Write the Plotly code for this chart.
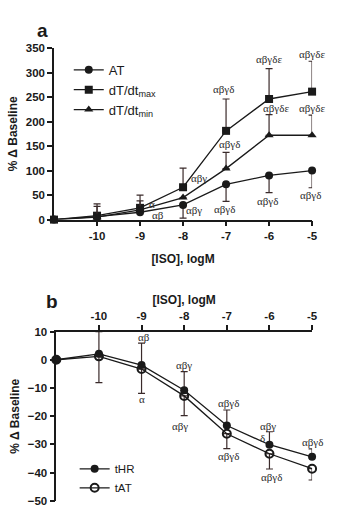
import plotly.graph_objects as go

# ---------------- data ----------------
conc = [-11, -10, -9, -8, -7, -6, -5]
tick_vals = [-10, -9, -8, -7, -6, -5]
tick_text = ["-10", "-9", "-8", "-7", "-6", "-5"]

# Panel a
at_vals = [0, 6, 15, 30, 72, 90, 100]
at_err_down = [0, 0, 0, 27, 35, 35, 35]
dtmax_vals = [0, 8, 24, 66, 181, 246, 261]
dtmax_err_up = [0, 24, 26, 39, 65, 62, 62]
dtmin_vals = [0, 5, 20, 45, 104, 172, 172]
dtmin_err_up = [0, 22, 18, 0, 33, 42, 41]

# Panel b
thr_vals = [0, 2.1, -1.9, -10.8, -23.3, -30.1, -34.4]
thr_err_up = [0, 7.9, 7.8, 6.6, 5.5, 4.6, 2.8]
tat_vals = [0, 1.2, -3.3, -12.8, -26.2, -33.3, -38.6]
tat_err_down = [0, 9.3, 8.6, 7.0, 5.3, 5.4, 4.0]

# significance labels: (x, y, text)
sig_a_x = [-6, -5, -7.05, -5.85, -5.0, -6.92, -7.62, -7.75, -7.04, -6.03, -5.03, -8.73, -8.58]
sig_a_y = [328, 338, 266, 228, 228, 155, 84, 19, 22, 37, 50, 31, 9]
sig_a_t = ["αβγδε", "αβγδε", "αβγδ", "αβγδε", "αβγδε", "αβγδ", "αβγ", "αβγ",
           "αβγδ", "αβγδ", "αβγδ", "α", "αβ"]

sig_b_x = [-8.94, -9.0, -8.0, -8.1, -6.95, -6.95, -6.04, -6.17, -5.95, -5.0, -4.93]
sig_b_y = [8, -14, -2, -23.6, -15.4, -34.2, -23.3, -27.7, -41.7, -29, -46]
sig_b_t = ["αβ", "α", "αβγ", "αβγ", "αβγδ", "αβγδ", "αβγ", "δ", "αβγδ", "αβγδ", "αβγδε"]

# ---------------- styles ----------------
INK = "#1a1a1a"
ERR = "#3a2a2a"
SANS = "Liberation Sans, Arial, sans-serif"
SERIF = "Liberation Serif, Times New Roman, serif"

fig = go.Figure()

def err_up(vals):
    return dict(type="data", symmetric=False, array=vals, arrayminus=[0] * len(vals),
                color=ERR, thickness=1.2, width=3.5)

def err_down(vals):
    return dict(type="data", symmetric=False, array=[0] * len(vals), arrayminus=vals,
                color=ERR, thickness=1.2, width=3.5)

fig.add_trace(go.Scatter(x=conc, y=at_vals, name="AT", mode="lines+markers",
                         line=dict(color=INK, width=1.3),
                         marker=dict(symbol="circle", size=8, color=INK),
                         error_y=err_down(at_err_down), cliponaxis=False,
                         xaxis="x", yaxis="y", legend="legend"))
fig.add_trace(go.Scatter(x=conc, y=dtmax_vals, name="dT/dt<sub>max</sub>", mode="lines+markers",
                         line=dict(color=INK, width=1.3),
                         marker=dict(symbol="square", size=8, color=INK),
                         error_y=err_up(dtmax_err_up), cliponaxis=False,
                         xaxis="x", yaxis="y", legend="legend"))
fig.add_trace(go.Scatter(x=conc, y=dtmin_vals, name="dT/dt<sub>min</sub>", mode="lines+markers",
                         line=dict(color=INK, width=1.3),
                         marker=dict(symbol="triangle-up", size=8, color=INK),
                         error_y=err_up(dtmin_err_up), cliponaxis=False,
                         xaxis="x", yaxis="y", legend="legend"))

fig.add_trace(go.Scatter(x=conc, y=thr_vals, name="tHR", mode="lines+markers",
                         line=dict(color=INK, width=1.3),
                         marker=dict(symbol="circle", size=8, color=INK),
                         error_y=err_up(thr_err_up), cliponaxis=False,
                         xaxis="x2", yaxis="y2", legend="legend2"))
fig.add_trace(go.Scatter(x=conc, y=tat_vals, name="tAT", mode="lines+markers",
                         line=dict(color=INK, width=1.3),
                         marker=dict(symbol="circle-open", size=8, color=INK, line=dict(width=2)),
                         error_y=err_down(tat_err_down), cliponaxis=False,
                         xaxis="x2", yaxis="y2", legend="legend2"))

annotations = []
for x, y, t in zip(sig_a_x, sig_a_y, sig_a_t):
    annotations.append(dict(x=x, y=y, xref="x", yref="y", text=t, showarrow=False,
                            font=dict(family=SERIF, size=11, color="#2a2a2a")))
for x, y, t in zip(sig_b_x, sig_b_y, sig_b_t):
    annotations.append(dict(x=x, y=y, xref="x2", yref="y2", text=t, showarrow=False,
                            font=dict(family=SERIF, size=11, color="#2a2a2a")))

# panel letters
annotations.append(dict(x=36 / 339, y=1 - 12 / 515, xref="paper", yref="paper", text="<b>a</b>",
                        showarrow=False, font=dict(family=SANS, size=19, color=INK)))
annotations.append(dict(x=45 / 339, y=1 - 303 / 515, xref="paper", yref="paper", text="<b>b</b>",
                        showarrow=False, font=dict(family=SANS, size=19, color=INK)))

tickfont = dict(family=SANS, size=11.5, color=INK, weight="bold")
titlefont = dict(family=SANS, size=12, color=INK, weight="bold")

axis_common = dict(showgrid=False, zeroline=False, showline=True, linecolor=INK, linewidth=1.5,
                   ticks="outside", ticklen=5, tickwidth=1.5, tickcolor=INK, tickfont=tickfont)

fig.update_layout(
    width=339, height=515,
    margin=dict(l=0, r=0, t=0, b=0),
    paper_bgcolor="white", plot_bgcolor="white",
    showlegend=True,
    xaxis=dict(domain=[55 / 339, 317.7 / 339], range=[-11, -5], tickvals=tick_vals,
               ticktext=tick_text, anchor="y",
               title=dict(text="[ISO], logM", font=titlefont, standoff=13), **axis_common),
    yaxis=dict(domain=[1 - 218.7 / 515, 1 - 43 / 515], range=[0, 350],
               tickvals=[0, 50, 100, 150, 200, 250, 300, 350], anchor="x",
               title=dict(text="% Δ Baseline", font=titlefont, standoff=6), **axis_common),
    xaxis2=dict(domain=[57.3 / 339, 317.7 / 339], range=[-11, -5], tickvals=tick_vals,
                ticktext=tick_text, anchor="y2", side="top",
                title=dict(text="[ISO], logM", font=titlefont, standoff=3), **axis_common),
    yaxis2=dict(domain=[1 - 506.7 / 515, 1 - 333.3 / 515], range=[-50, 10],
                tickvals=[10, 0, -10, -20, -30, -40, -50], anchor="x2",
                title=dict(text="% Δ Baseline", font=titlefont, standoff=6), **axis_common),
    legend=dict(x=70 / 339, y=1 - 50 / 515, xanchor="left", yanchor="top",
                bgcolor="rgba(0,0,0,0)", font=dict(family=SANS, size=13, color=INK),
                tracegroupgap=0),
    legend2=dict(x=76 / 339, y=1 - 459 / 515, xanchor="left", yanchor="top",
                 bgcolor="rgba(0,0,0,0)", font=dict(family=SANS, size=11.5, color=INK),
                 tracegroupgap=0),
    annotations=annotations,
)

fig.write_html("out.html")
